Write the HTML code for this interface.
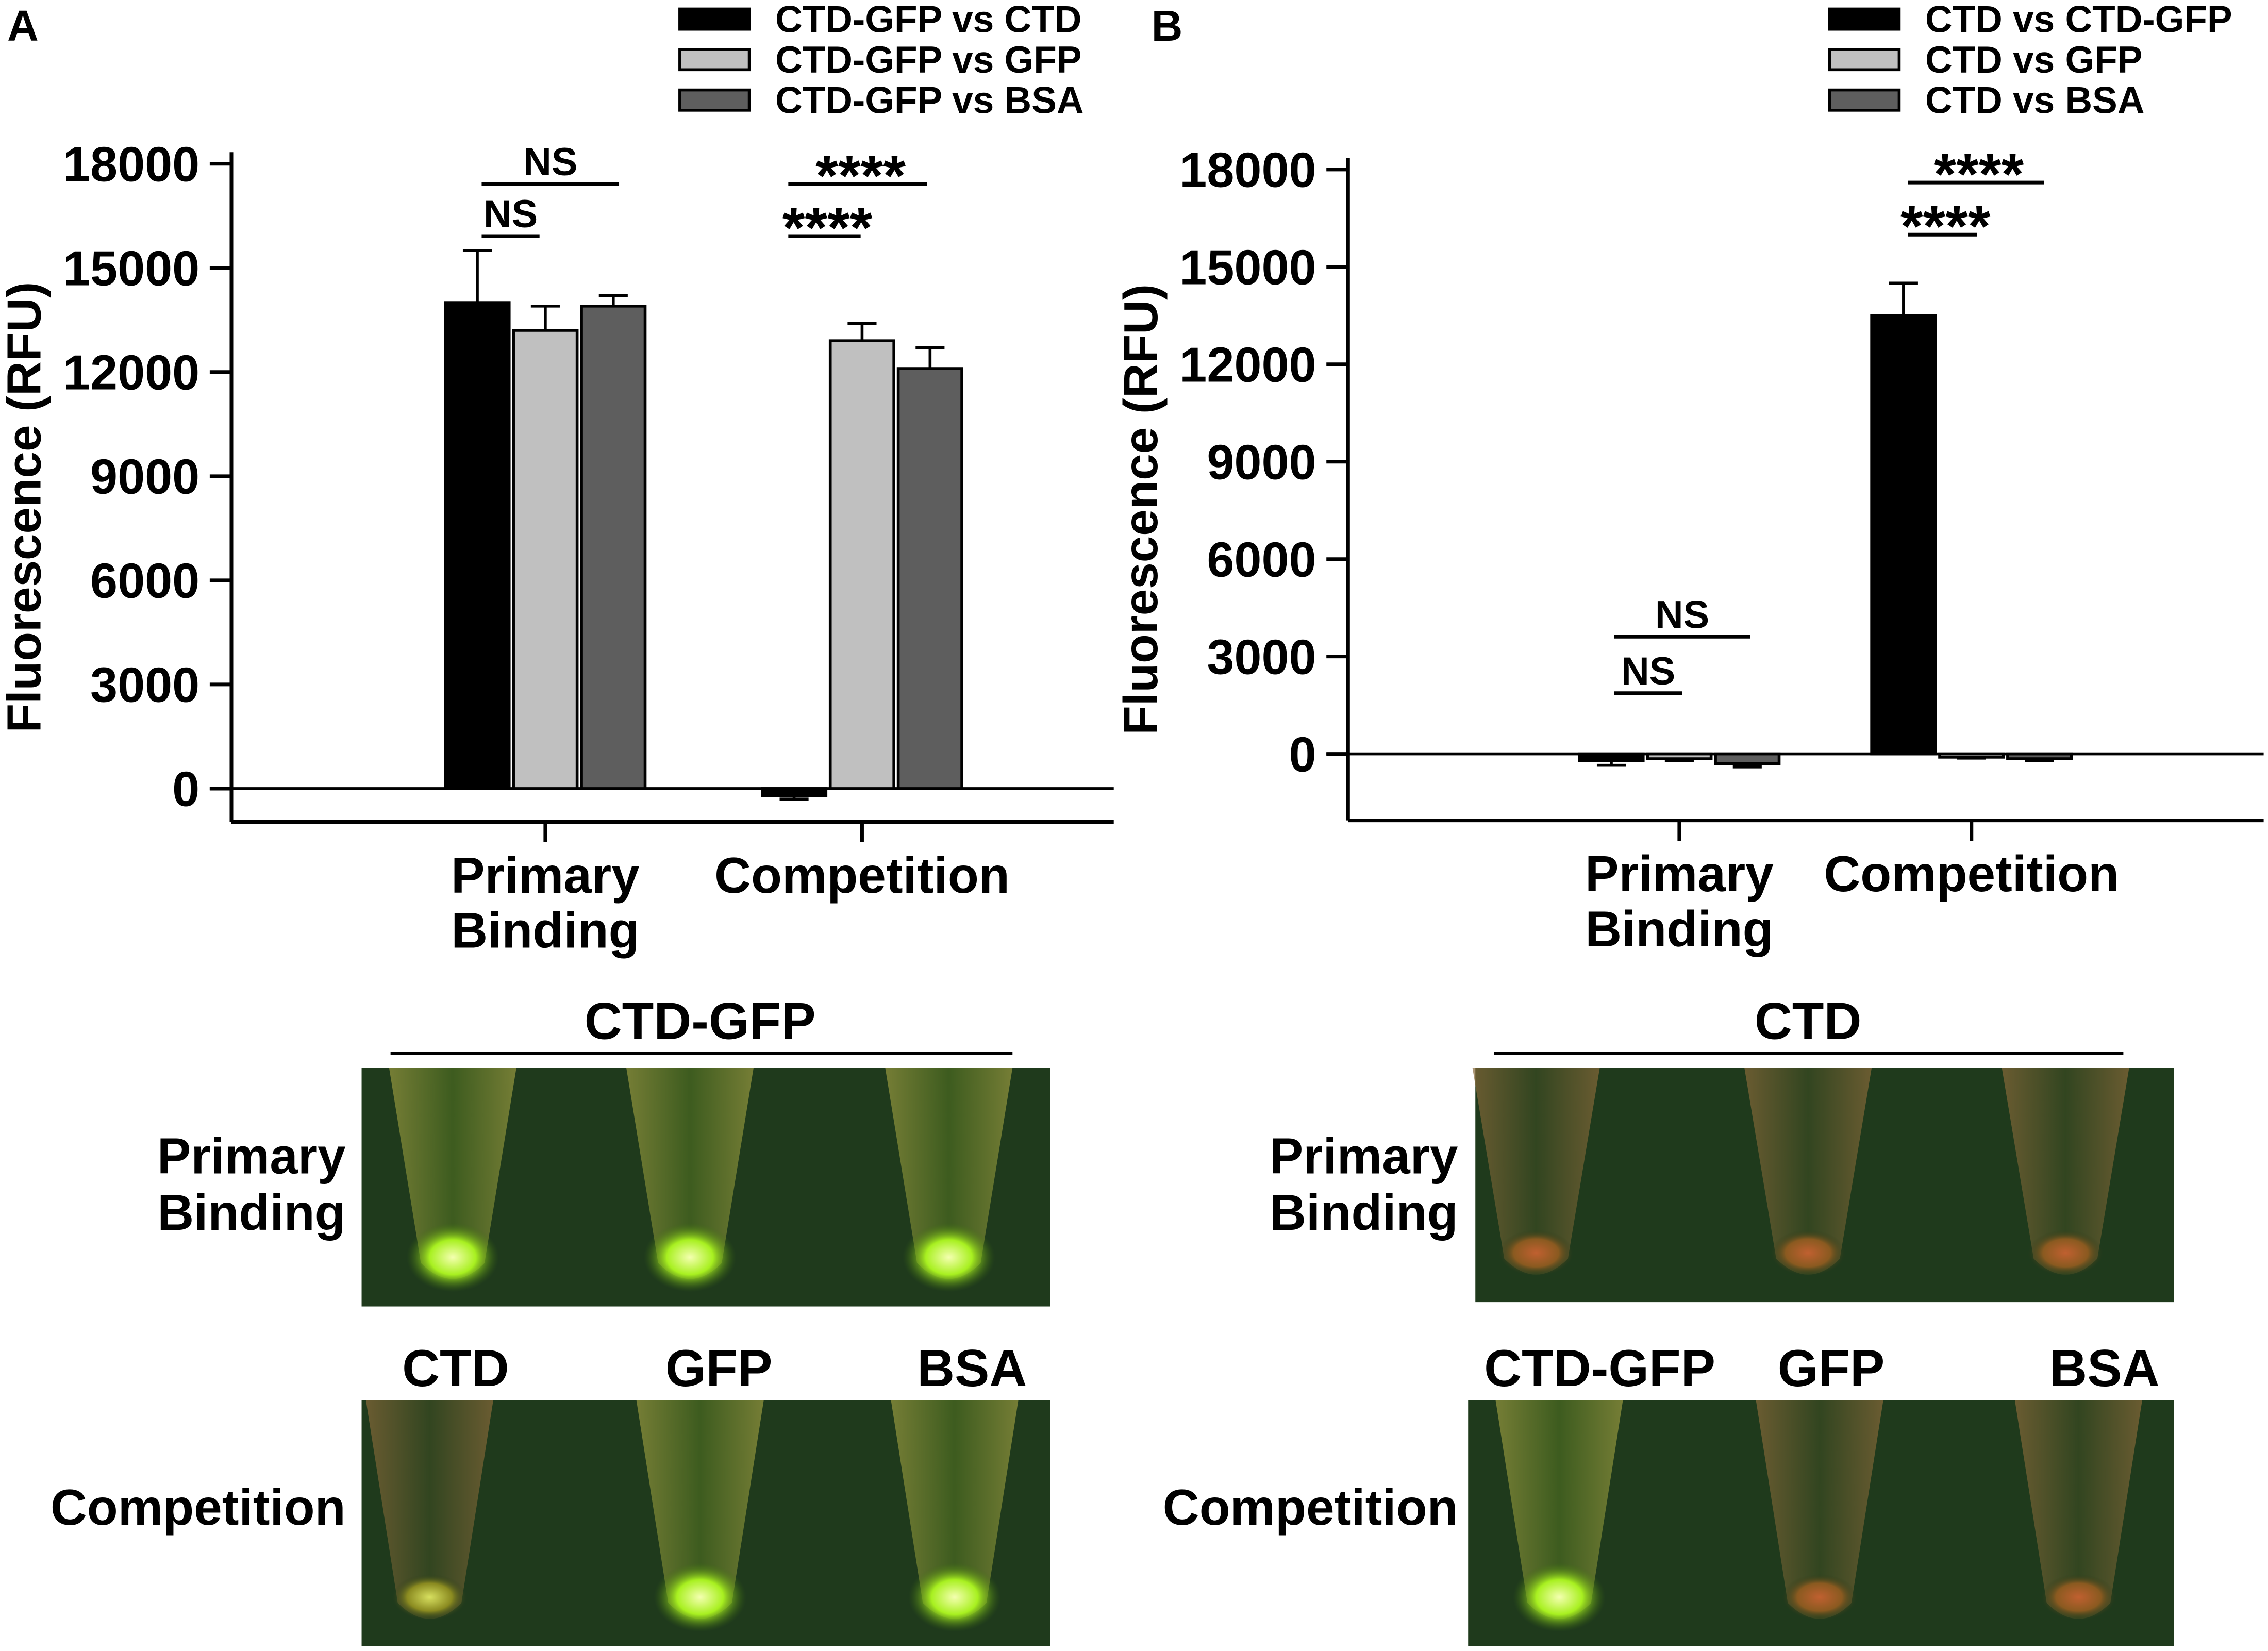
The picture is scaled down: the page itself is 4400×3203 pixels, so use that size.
<!DOCTYPE html>
<html><head><meta charset="utf-8"><style>
html,body{margin:0;padding:0;background:#fff;}
svg{display:block;}
text{font-family:"Liberation Sans",sans-serif;font-weight:bold;fill:#000;}
</style></head><body>
<svg id="fig" width="4400" height="3203" viewBox="0 0 1568 1141" xmlns="http://www.w3.org/2000/svg">
<defs>
<radialGradient id="glowG" cx="50%" cy="50%" r="50%"><stop offset="0" stop-color="#f4ffb0"/><stop offset="0.5" stop-color="#a8f020"/><stop offset="1" stop-color="#3a6a10" stop-opacity="0"/></radialGradient>
<radialGradient id="glowR" cx="50%" cy="50%" r="50%"><stop offset="0" stop-color="#c06030"/><stop offset="0.6" stop-color="#8a5a20"/><stop offset="1" stop-color="#2a3a18" stop-opacity="0"/></radialGradient>
<radialGradient id="glowY" cx="50%" cy="50%" r="50%"><stop offset="0" stop-color="#d8e060"/><stop offset="0.6" stop-color="#8a8a20"/><stop offset="1" stop-color="#2a3a18" stop-opacity="0"/></radialGradient>
<linearGradient id="tubeA" x1="0" x2="1"><stop offset="0" stop-color="#9a9a40"/><stop offset="0.5" stop-color="#4a6a20"/><stop offset="1" stop-color="#9a9a40"/></linearGradient>
<linearGradient id="tubeB" x1="0" x2="1"><stop offset="0" stop-color="#8a6a3a"/><stop offset="0.5" stop-color="#3a4a22"/><stop offset="1" stop-color="#8a6a3a"/></linearGradient>
</defs>
<text x="5" y="28" font-size="30">A</text>
<text x="796" y="28" font-size="30">B</text>
<g id="chartA"></g>
<g id="chartB"></g>
<g id="photos"></g>
</svg>
<script>
const NS="http://www.w3.org/2000/svg";
const groupsA=["Primary Binding","Competition"];
const seriesA=["CTD-GFP vs CTD","CTD-GFP vs GFP","CTD-GFP vs BSA"];
const valuesA=[[14000,13200,13900],[-200,12900,12100]];
const errorsA=[[1500,700,300],[100,500,600]];
const seriesB=["CTD vs CTD-GFP","CTD vs GFP","CTD vs BSA"];
const valuesB=[[-200,-150,-300],[13500,-100,-150]];
const errorsB=[[150,50,100],[1000,30,50]];
const yTicks=[0,3000,6000,9000,12000,15000,18000];
const colors=["#000","#c0c0c0","#5e5e5e"];

function el(p,tag,attrs,txt){const e=document.createElementNS(NS,tag);for(const k in attrs)e.setAttribute(k,attrs[k]);if(txt!==undefined)e.textContent=txt;p.appendChild(e);return e;}

function chart(g,cfg,vals,errs,series){
  const y=v=>cfg.y0-(v/18000)*(cfg.y0-cfg.y18);
  const ax=el(g,'line',{x1:cfg.ax,x2:cfg.ax,y1:cfg.y18-8,y2:cfg.bot,stroke:'#000','stroke-width':2.5});
  
  const xb=el(g,'line',{x1:cfg.ax,x2:cfg.right,y1:cfg.bot,y2:cfg.bot,stroke:'#000','stroke-width':2.5});
  
  yTicks.forEach(t=>{
    el(g,'line',{x1:cfg.ax-15,x2:cfg.ax,y1:y(t),y2:y(t),stroke:'#000','stroke-width':2.5});
    const tl=el(g,'text',{x:cfg.ax-22,y:y(t)+12,'font-size':34,'text-anchor':'end'},String(t));
    
  });
  const zl=el(g,'line',{x1:cfg.ax-15,x2:cfg.right,y1:y(0),y2:y(0),stroke:'#000','stroke-width':2});
  
  const yt=el(g,'text',{transform:`translate(${cfg.ax-132},${(cfg.y18+cfg.bot)/2+10}) rotate(-90)`,'font-size':33,'text-anchor':'middle'},'Fluorescence (RFU)');
  
  vals.forEach((grp,gi)=>{
    const cx=cfg.gx[gi];
    el(g,'line',{x1:cx,x2:cx,y1:cfg.bot,y2:cfg.bot+14,stroke:'#000','stroke-width':2.5});
    const lines=groupsA[gi].split(' ');
    lines.forEach((w,li)=>{
      const t=el(g,'text',{x:cx,y:cfg.bot+49+li*38,'font-size':35,'text-anchor':'middle'},w);
      
    });
    grp.forEach((v,si)=>{
      const x0=cx-69+si*47;
      const top=Math.min(y(v),y(0)),h=Math.max(Math.abs(y(v)-y(0)),2);
      const e=errs[gi][si];
      const ey=y(v+(v>=0?e:-e));
      el(g,'line',{x1:x0+22,x2:x0+22,y1:y(v),y2:ey,stroke:'#000','stroke-width':2});
      el(g,'line',{x1:x0+12,x2:x0+32,y1:ey,y2:ey,stroke:'#000','stroke-width':2});
      const b=el(g,'rect',{x:x0,y:top,width:44,height:h,fill:colors[si],stroke:'#000','stroke-width':2});
      
    });
  });
  series.forEach((s,i)=>{
    const sw=el(g,'rect',{x:cfg.lx,y:6+i*28,width:48,height:14,fill:colors[i],stroke:'#000','stroke-width':2});
    
    const t=el(g,'text',{x:cfg.lx+66,y:22+i*28,'font-size':26},s);
    
  });
  cfg.sig.forEach(s=>{
    el(g,'line',{x1:s[0],x2:s[1],y1:s[2],y2:s[2],stroke:'#000','stroke-width':2.5});
    const t=el(g,'text',{x:(s[0]+s[1])/2+(s[3]=='NS'?0:2),y:s[2]-(s[3]=='NS'?6:-8),'font-size':s[3]=='NS'?27:40,'text-anchor':'middle'},s[3]);
    
  });
}
chart(document.getElementById('chartA'),{ax:160,y0:545,y18:113,bot:568,right:770,gx:[377,596],lx:470,
  sig:[[333,428,127,'NS'],[333,373,163,'NS'],[545,641,127,'****'],[545,595,163,'****']]},valuesA,errorsA,seriesA);
chart(document.getElementById('chartB'),{ax:932,y0:521,y18:117,bot:567,right:1565,gx:[1161,1363],lx:1265,
  sig:[[1116,1210,440,'NS'],[1116,1163,479,'NS'],[1319,1413,126,'****'],[1319,1367,162,'****']]},valuesB,errorsB,seriesB);

const P=document.getElementById('photos');
function photo(x,y,w,h,tubes,name){
  const g=el(P,'g',{});
  el(g,'rect',{x:x,y:y,width:w,height:h,fill:'#1f3a1c'});
  tubes.forEach(t=>{
    const [cx,glow]=t;
    el(g,'path',{d:`M${cx-44},${y} L${cx+44},${y} L${cx+22},${y+h-30} Q${cx},${y+h-8} ${cx-22},${y+h-30} Z`,fill:glow=='G'?'url(#tubeA)':'url(#tubeB)',opacity:0.7});
    el(g,'ellipse',{cx:cx,cy:y+h-34,rx:glow=='G'?32:26,ry:glow=='G'?24:16,fill:glow=='G'?'url(#glowG)':glow=='Y'?'url(#glowY)':'url(#glowR)'});
  });
}
photo(250,738,476,165,[[313,'G'],[477,'G'],[656,'G']],'photo-a-primary');
photo(250,968,476,170,[[297,'Y'],[484,'G'],[660,'G']],'photo-a-competition');
photo(1020,738,483,162,[[1062,'R'],[1250,'R'],[1428,'R']],'photo-b-primary');
photo(1015,968,488,170,[[1078,'G'],[1258,'R'],[1437,'R']],'photo-b-competition');
function label(x,y,s,anchor,name,size){const t=el(P,'text',{x:x,y:y,'font-size':size||35,'text-anchor':anchor},s);}
el(P,'line',{x1:270,x2:700,y1:728,y2:728,stroke:'#000','stroke-width':2});
el(P,'line',{x1:1033,x2:1468,y1:728,y2:728,stroke:'#000','stroke-width':2});
label(484,718,'CTD-GFP','middle','photo-title-a',36);
label(1250,718,'CTD','middle','photo-title-b',36);
label(239,811,'Primary','end','row-label');label(239,850,'Binding','end','row-label');
label(239,1054,'Competition','end','row-label');
label(1008,811,'Primary','end','row-label');label(1008,850,'Binding','end','row-label');
label(1008,1054,'Competition','end','row-label');
label(315,958,'CTD','middle','tube-label',36);label(497,958,'GFP','middle','tube-label',36);label(672,958,'BSA','middle','tube-label',36);
label(1106,958,'CTD-GFP','middle','tube-label',36);label(1266,958,'GFP','middle','tube-label',36);label(1455,958,'BSA','middle','tube-label',36);
</script>
</body></html>
